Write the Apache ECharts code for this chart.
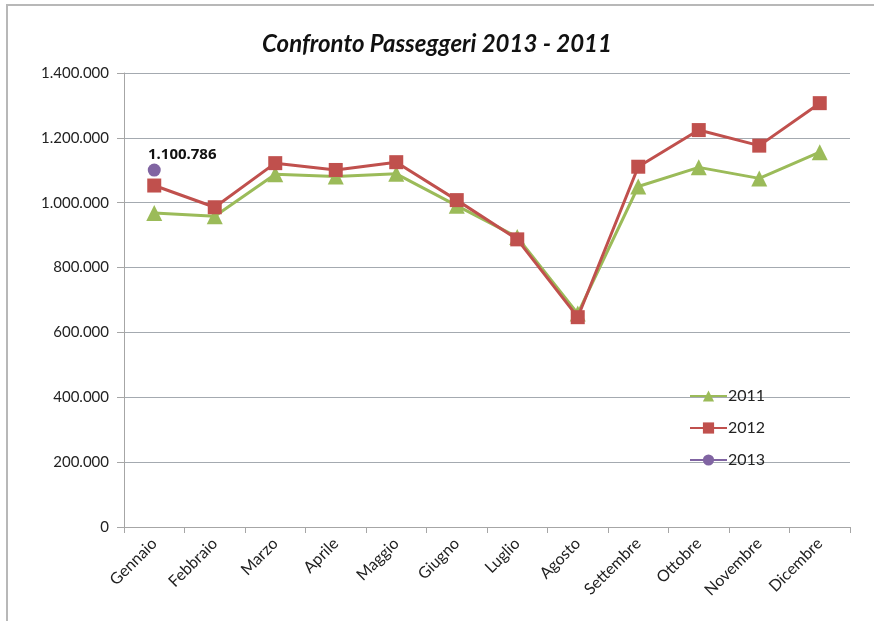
<!DOCTYPE html>
<html>
<head>
<meta charset="utf-8">
<script src="https://cdn.jsdelivr.net/npm/echarts@6/dist/echarts.min.js"></script>
<style>
html,body{margin:0;padding:0;background:#fff;}
#frame{position:absolute;left:6px;top:4px;width:868px;height:617px;border-top:2px solid #b8b8b8;border-left:2px solid #b8b8b8;box-sizing:border-box;}
#c{position:absolute;left:0;top:0;width:874px;height:621px;}
</style>
</head>
<body>
<div id="frame"></div>
<div id="c"></div>
<script>
const months = ['Gennaio','Febbraio','Marzo','Aprile','Maggio','Giugno','Luglio','Agosto','Settembre','Ottobre','Novembre','Dicembre'];
const y2011 = [968000, 958000, 1088000, 1081000, 1089000, 991000, 894000, 658000, 1050000, 1109000, 1075000, 1156000];
const y2012 = [1053000, 986000, 1122000, 1101000, 1125000, 1008000, 887000, 647000, 1111000, 1224000, 1176000, 1307000];
const y2013 = [1100786, null, null, null, null, null, null, null, null, null, null, null];
const yTicks = [0, 200000, 400000, 600000, 800000, 1000000, 1200000, 1400000];

function fmt(v){ return String(Math.round(v)).replace(/\B(?=(\d{3})+(?!\d))/g, '.'); }

const chart = echarts.init(document.getElementById('c'), null, {renderer:'canvas'});
chart.setOption({
  backgroundColor: 'transparent',
  animation: false,
  title: {
    text: 'Confronto Passeggeri 2013 - 2011',
    left: 'center', top: 27,
    textStyle: {fontFamily: 'Lato', fontStyle: 'italic', fontWeight: 'bold', fontSize: 24, color: '#111'}
  },
  legend: {
    orient: 'vertical', left: 684, top: 383,
    itemWidth: 37, itemHeight: 14, itemGap: 16,
    textStyle: {fontFamily: 'Lato', fontSize: 16, color: '#222', padding: [0, 0, 0, -4]},
    data: ['2011','2012','2013']
  },
  grid: {left: 124, right: 24, top: 73, bottom: 94},
  xAxis: {
    type: 'category', data: months, boundaryGap: true,
    axisLine: {lineStyle: {color: '#a6a6a6', width: 1}},
    axisTick: {show: true, alignWithLabel: false, length: 6, lineStyle: {color: '#a6a6a6'}},
    axisLabel: {rotate: 45, fontFamily: 'Lato', fontSize: 16, color: '#222', margin: 14, interval: 0}
  },
  yAxis: {
    type: 'value', min: 0, max: 1400000, interval: 200000,
    axisLine: {show: true, lineStyle: {color: '#a6a6a6'}},
    axisTick: {show: true, inside: false, length: 7, lineStyle: {color: '#a6a6a6'}},
    splitLine: {lineStyle: {color: '#a4aab0', width: 1}},
    axisLabel: {fontFamily: 'Lato', fontSize: 15, color: '#222', margin: 15,
      formatter: function(v){ return yTicks.indexOf(v) >= 0 ? fmt(v) : ''; }}
  },
  series: [
    {name: '2011', type: 'line', data: y2011, symbol: 'triangle', symbolSize: 16,
     lineStyle: {color: '#9bbb59', width: 3}, itemStyle: {color: '#9bbb59'}, z: 2},
    {name: '2012', type: 'line', data: y2012, symbol: 'rect', symbolSize: 14,
     lineStyle: {color: '#c0504d', width: 3}, itemStyle: {color: '#c0504d'}, z: 3},
    {name: '2013', type: 'line', data: y2013, symbol: 'circle', symbolSize: 13,
     lineStyle: {color: '#8064a2', width: 3}, itemStyle: {color: '#8064a2'}, z: 4,
     label: {show: true, position: 'top', offset: [28, 4], fontFamily: 'Noto Sans', fontWeight: 'bold', fontSize: 15, color: '#111',
       formatter: function(p){ return fmt(p.value); }}}
  ]
});
</script>
</body>
</html>
